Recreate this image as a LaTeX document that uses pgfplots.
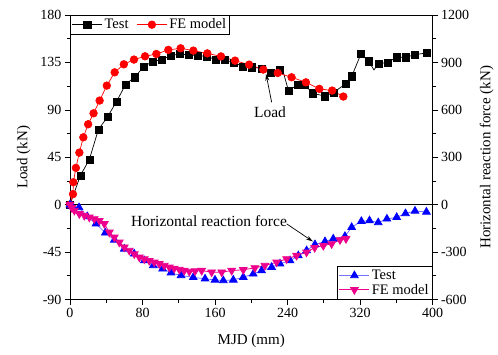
\documentclass[border=0pt]{standalone}
\usepackage{fontspec}
\setmainfont{Liberation Serif}
\usepackage{pgfplots}
\pgfplotsset{compat=1.18}
\usetikzlibrary{arrows.meta}

\pgfplotstableread{
x y
0 0
11.4 27.6
21.3 42.8
31.3 71.2
41.6 83.6
51.5 98.1
61.4 114.2
71.4 120.9
81.3 131
91.2 135.8
101.2 137.7
111.4 141.5
121.4 143
131.3 142.1
141.2 141.5
150.8 140.8
160.8 137.7
170.5 137.4
180.2 135.1
190.5 131.3
200.5 130.4
211.5 129.4
221.4 125.6
231 127.9
235 127
241 108.3
251.5 113.8
259 114
267.6 105.7
281.4 103
290.8 106.5
304 114.6
311 122
321 143
329.5 136.1
335.4 127.9
340.2 133.6
350.5 135.1
360.5 139.9
370.8 139.9
380.7 142.4
393.6 144
}\loadtest

\pgfplotstableread{
x y
0 0
11.4 27.6
21.3 42.8
31.3 71.2
41.6 83.6
51.5 98.1
61.4 114.2
71.4 120.9
81.3 131
91.2 135.8
101.2 137.7
111.4 141.5
121.4 143
131.3 142.1
141.2 141.5
150.8 140.8
160.8 137.7
170.5 137.4
180.2 135.1
190.5 131.3
200.5 130.4
211.5 129.4
221.4 125.6
231 127.9
241 108.3
251.5 113.8
259 114
267.6 105.7
281.4 103
290.8 106.5
304 114.6
311 122
321 143
329.5 136.1
340.2 133.6
350.5 135.1
360.5 139.9
370.8 139.9
380.7 142.4
393.6 144
}\loadtestmarks

\pgfplotstableread{
x y
0 0
3.3 10
3.7 21.3
6.5 34.9
10.3 49.4
14.7 63.9
20 76.3
26 86.7
32.7 98.8
40.6 113
49.3 125.6
59.4 133.2
70.6 137.7
82.8 140.8
95.3 143
108.5 146.9
122.1 148.4
136.1 146.2
151.5 143.6
166.6 140.7
182.1 136.7
197.6 132.9
213.3 128.2
229.2 125
244.5 120.9
260.3 116.1
275.1 109.9
289.3 108.3
301.6 102.6
}\loadfe

\pgfplotstableread{
x y
0 0
2 -8
10 -18
19 -75
28.7 -121
39 -178
48.9 -223
59.9 -280
70.9 -311
82 -354
91.9 -385
102.2 -406
111.4 -431
122.5 -448
136 -460
149 -469
160 -476
169.2 -480
180.2 -476
191.2 -459
202.2 -438
211.4 -417
222.5 -396
231.7 -374
242.8 -354
251.9 -322
261.1 -290
270.3 -252
281.4 -233
290.5 -216
303.4 -200
310.8 -143
321.5 -105
330.5 -101
340.1 -113
349.7 -90
360.5 -80
370.2 -56
380.7 -40
393.3 -46
}\reactest

\pgfplotstableread{
x y
0 0
2 -20
4.8 -37
10.3 -58
15.8 -69
21.3 -80
26.8 -90
32.4 -101
37.9 -121
43.4 -175
48.9 -206
54.4 -238
59.9 -269
65.4 -290
71 -312
76.5 -333
82 -344
87.5 -354
93 -364
98.5 -374
104 -385
109.6 -396
115 -403
120.6 -410
126 -417
131.6 -423
138 -420
145.3 -417
156.3 -427
167.4 -427
178.4 -417
191.2 -412
204 -400
215 -385
228 -364
239 -343
250 -322
261 -301
270 -272
279.5 -259
288.7 -248
297.9 -223
304.5 -216
}\reacfe

\pgfplotsset{
  myaxis/.style={
    at={(0,0)}, anchor=south west,
    scale only axis, width=362.5pt, height=284.5pt,
    xmin=0, xmax=400,
    tick align=outside,
    major tick length=5pt, minor tick length=3pt,
    every tick/.style={black, line width=0.6pt},
    axis line style={black, line width=0.8pt},
    tick label style={font=\fontsize{14}{16}\selectfont},
    label style={font=\fontsize{15}{17}\selectfont},
    /pgf/number format/assume math mode=true,
    /pgf/number format/set thousands separator={},
    legend cell align=left,
    legend style={font=\fontsize{14.5}{16}\selectfont, draw=black, line width=0.8pt, inner sep=1.5pt, row sep=-1pt},
    legend image code/.code={\draw[mark repeat=2,mark phase=2,#1] plot coordinates {(0pt,0pt) (15pt,0pt) (30pt,0pt)};},
  }
}

\begin{document}
\begin{tikzpicture}
\useasboundingbox (-70pt,-55pt) rectangle (428pt,299.5pt);
\begin{axis}[myaxis,
  ymin=-90, ymax=180,
  xtick={0,80,...,400}, minor x tick num=1,
  ytick={-90,-45,...,180}, minor y tick num=1,
  xtick pos=bottom, ytick pos=left,
  xlabel={MJD (mm)}, ylabel={Load (kN)},
  xlabel style={yshift=-10pt},
  ylabel style={yshift=3pt},
  legend columns=2,
  legend style={at={(0,1)}, anchor=north west, /tikz/every even column/.append style={column sep=6pt}},
]
\addplot[black, line width=0.6pt, forget plot] coordinates {(0,0) (400,0)};
\addplot[black, line width=0.7pt, forget plot] table {\loadtest};
\addplot[black, only marks, mark=square*, mark size=3.6pt, forget plot] table {\loadtestmarks};
\addlegendimage{black, line width=0.7pt, mark=square*, mark size=3.6pt}
\addlegendentry{Test}
\addplot[red, line width=0.7pt, mark=*, mark size=3.8pt, mark options={fill=red}] table {\loadfe};
\addlegendentry{FE model}
\node[font=\fontsize{15.5}{17}\selectfont] at (axis cs:220.7,87.7) {Load};
\draw[-{Stealth[length=7pt,width=4pt]}, black, line width=0.7pt] (axis cs:222.5,97.2) -- (axis cs:216.3,124.1);
\node[font=\fontsize{15.5}{17}\selectfont] at (axis cs:153.4,-15.2) {Horizontal reaction force};
\draw[-{Stealth[length=7pt,width=4pt]}, black, line width=0.7pt] (axis cs:239.1,-18.2) -- (axis cs:268.1,-35);
\end{axis}
\begin{axis}[myaxis,
  ymin=-600, ymax=1200,
  hide x axis,
  axis y line*=right,
  ytick={-600,-300,...,1200}, minor y tick num=1,
  ylabel={Horizontal reaction force (kN)},
  ylabel style={yshift=-4pt},
  legend style={at={(1,0)}, anchor=south east},
]
\addplot[blue!55!white, line width=0.8pt, mark=triangle*, mark size=4.4pt, mark options={blue, fill=blue}] table {\reactest};
\addlegendentry{Test}
\addplot[magenta, line width=0.8pt, mark=triangle*, mark size=4.4pt, mark options={magenta, fill=magenta, rotate=180}] table {\reacfe};
\addlegendentry{FE model}
\end{axis}
\end{tikzpicture}
\end{document}
